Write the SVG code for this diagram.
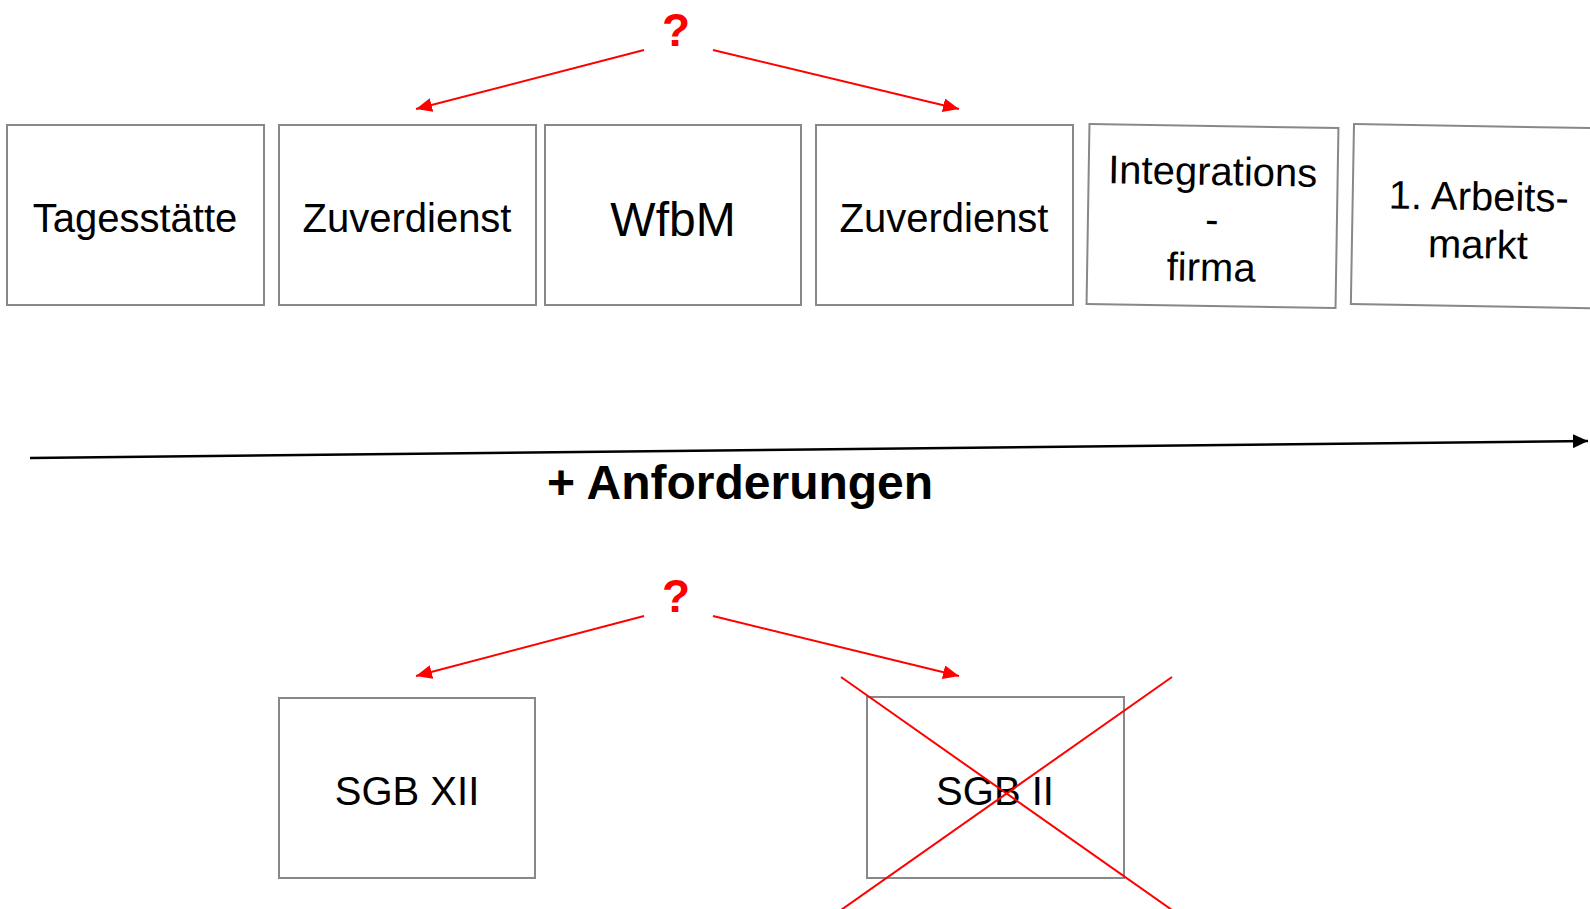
<svg xmlns="http://www.w3.org/2000/svg" width="1590" height="909" viewBox="0 0 1590 909">
<style>
.box{fill:#fff;stroke:#888;stroke-width:2}
.t{font-family:"Liberation Sans",Arial,sans-serif;font-size:40px;fill:#000;text-anchor:middle}
.q{font-family:"Liberation Sans",Arial,sans-serif;font-size:46px;font-weight:bold;fill:#f00;text-anchor:middle}
.red{stroke:#f00;stroke-width:2;fill:none}
</style>
<defs>
<marker id="ra" markerUnits="userSpaceOnUse" markerWidth="18" markerHeight="14" refX="16" refY="7" orient="auto"><path d="M0,0 L16,7 L0,14 Z" fill="#f00"/></marker>
<marker id="ba" markerUnits="userSpaceOnUse" markerWidth="16" markerHeight="14" refX="15" refY="7" orient="auto"><path d="M0,0 L15,7 L0,14 Z" fill="#000"/></marker>
</defs>
<g id="n-tagesstaette"><rect class="box" x="7" y="125" width="257" height="180"/><text class="t" x="135" y="232">Tagesstätte</text></g>
<g id="n-zuverdienst1"><rect class="box" x="279" y="125" width="257" height="180"/><text class="t" x="407" y="232">Zuverdienst</text></g>
<g id="n-wfbm"><rect class="box" x="545" y="125" width="256" height="180"/><text class="t" x="673" y="236" style="font-size:48px">WfbM</text></g>
<g id="n-zuverdienst2"><rect class="box" x="816" y="125" width="257" height="180"/><text class="t" x="944" y="232">Zuverdienst</text></g>
<g id="n-integrationsfirma" transform="rotate(0.93 1212 216)"><rect class="box" x="1088" y="126" width="249" height="180"/><text class="t" x="1212" y="185">Integrations</text><text class="t" x="1212" y="233">-</text><text class="t" x="1212" y="281">firma</text></g>
<g id="n-arbeitsmarkt" transform="rotate(1 1354 124)"><rect class="box" x="1354" y="124" width="256" height="180"/><text class="t" x="1480" y="208">1. Arbeits-</text><text class="t" x="1480" y="256">markt</text></g>
<g id="n-sgbxii"><rect class="box" x="279" y="698" width="256" height="180"/><text class="t" x="407" y="805">SGB XII</text></g>
<g id="n-sgbii"><rect class="box" x="867" y="697" width="257" height="181"/><text class="t" x="995" y="805">SGB II</text></g>
<g id="labels">
<text class="q" x="676" y="46">?</text>
<text class="q" x="676" y="612">?</text>
<text x="740" y="499" style="font-family:'Liberation Sans',Arial,sans-serif;font-size:48px;font-weight:bold;text-anchor:middle">+ Anforderungen</text>
</g>
<g id="connectors">
<line class="red" x1="644" y1="50" x2="416" y2="109" marker-end="url(#ra)"/>
<line class="red" x1="713" y1="50" x2="959" y2="109" marker-end="url(#ra)"/>
<line class="red" x1="644" y1="616" x2="416" y2="676" marker-end="url(#ra)"/>
<line class="red" x1="713" y1="616" x2="959" y2="676" marker-end="url(#ra)"/>
<line x1="30" y1="458" x2="1588" y2="441" stroke="#000" stroke-width="2.5" marker-end="url(#ba)"/>
<line class="red" x1="841" y1="677" x2="1172" y2="910"/>
<line class="red" x1="1172" y1="677" x2="841" y2="910"/>
</g>
</svg>
